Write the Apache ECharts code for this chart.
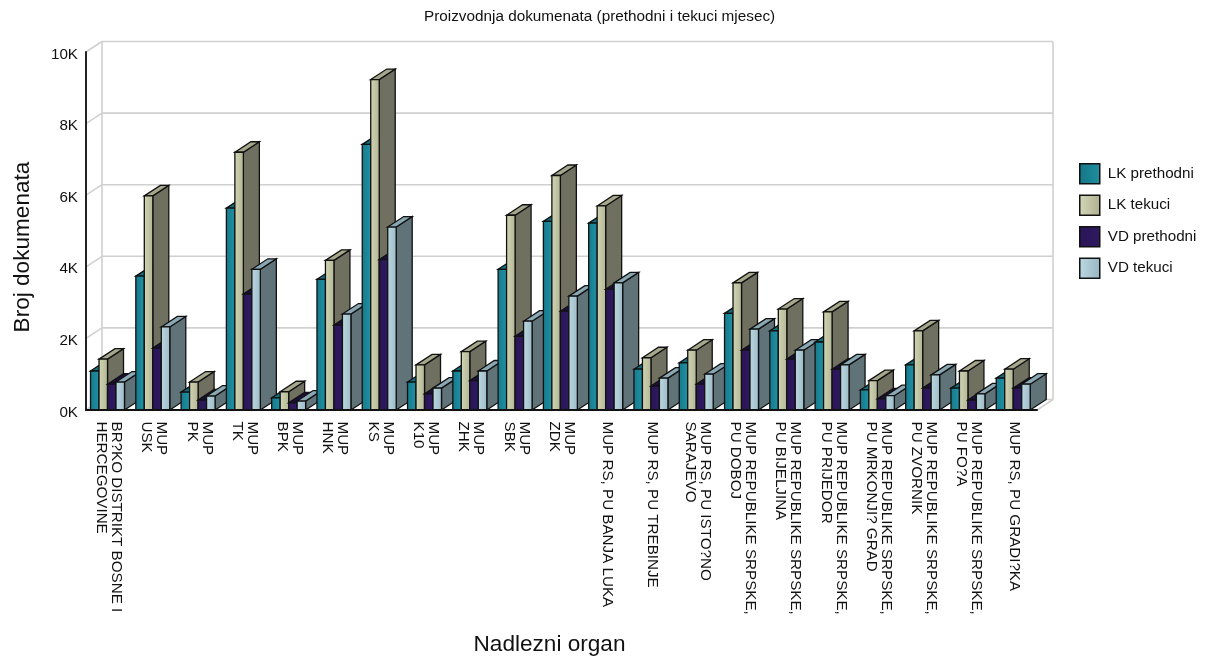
<!DOCTYPE html>
<html><head><meta charset="utf-8">
<style>html,body{margin:0;padding:0;background:#fff}#c{width:1208px;height:661px}</style>
<script src="https://cdn.jsdelivr.net/npm/echarts@6/dist/echarts.min.js"></script>
</head><body><div id="c"></div>
<script>
const categories = [
 "BR?KO DISTRIKT BOSNE I\nHERCEGOVINE","MUP\nUSK","MUP\nPK","MUP\nTK","MUP\nBPK","MUP\nHNK","MUP\nKS","MUP\nK10","MUP\nZHK","MUP\nSBK","MUP\nZDK",
 "MUP RS, PU BANJA LUKA","MUP RS, PU TREBINJE","MUP RS, PU ISTO?NO\nSARAJEVO","MUP REPUBLIKE SRPSKE,\nPU DOBOJ","MUP REPUBLIKE SRPSKE,\nPU BIJELJINA",
 "MUP REPUBLIKE SRPSKE,\nPU PRIJEDOR","MUP REPUBLIKE SRPSKE,\nPU MRKONJI? GRAD","MUP REPUBLIKE SRPSKE,\nPU ZVORNIK","MUP REPUBLIKE SRPSKE,\nPU FO?A","MUP RS, PU GRADI?KA"];
const lkPrethodni = [1090,3740,500,5640,340,3650,7420,780,1090,3930,5270,5220,1140,1320,2700,2210,1900,560,1260,610,890];
const lkTekuci    = [1420,5980,780,7200,510,4180,9230,1260,1630,5440,6550,5700,1460,1670,3550,2820,2740,820,2210,1090,1140];
const vdPrethodni = [720,1730,280,3240,200,2370,4200,450,820,2060,2760,3370,670,720,1670,1420,1140,310,610,280,610];
const vdTekuci    = [780,2320,390,3930,250,2680,5110,610,1090,2480,3180,3550,890,1000,2260,1670,1260,400,980,450,720];
const yTicks = [0,2000,4000,6000,8000,10000];

const DX = 16, DY = 10.5, GRIDL = 86, GRIDR = 1037, GRIDT = 52, GRIDB = 410.5;
const FONT = '"Liberation Sans", Arial, sans-serif';
const grad = (a,b)=>({type:'linear',x:0,y:0,x2:1,y2:0,colorStops:[{offset:0,color:a},{offset:1,color:b}]});
const styles = [
 {name:'LK prethodni',front:grad('#17788a','#1f93a6'),side:'#10606f',top:'#136f80',legend:grad('#157686','#1f8fa0'),values:lkPrethodni},
 {name:'LK tekuci',front:grad('#d2d6b4','#b2b594'),side:'#6f7060',top:'#a6a78b',legend:grad('#d5d8b8','#aeb090'),values:lkTekuci},
 {name:'VD prethodni',front:grad('#2a1557','#2f1a62'),side:'#1d0e40',top:'#1d0e40',legend:grad('#2a1557','#2f1a62'),values:vdPrethodni},
 {name:'VD tekuci',front:grad('#bcd9e2','#9cbac6'),side:'#5f7378',top:'#8aa7b4',legend:grad('#bcd9e2','#98b6c2'),values:vdTekuci}
];

function barRender(si){
  return function(params, api){
    const i = api.value(0), v = api.value(1);
    const p0 = api.coord([i,0]), p1 = api.coord([i,v]);
    const band = api.size([1,0])[0];
    const left = p0[0] - band/2 + band*0.10;
    const w = band*0.75/4;
    const x = left + si*w, xr = x + w, yb = p0[1], yt = p1[1];
    const z = (i*4 + si)*3;
    const ln = {stroke:'#111',lineWidth:1.3,lineJoin:'miter'};
    const s = styles[si];
    return {type:'group',children:[
      {type:'polygon',z2:z,shape:{points:[[xr,yb],[xr+DX,yb-DY],[xr+DX,yt-DY],[xr,yt]]},style:Object.assign({fill:s.side},ln)},
      {type:'polygon',z2:z+1,shape:{points:[[x,yt],[x+DX,yt-DY],[xr+DX,yt-DY],[xr,yt]]},style:Object.assign({fill:s.top},ln)},
      {type:'rect',z2:z+2,shape:{x:x,y:yt,width:w,height:yb-yt},style:Object.assign({fill:s.front},ln)}
    ]};
  };
}
function wallRender(params, api){
  const v = api.value(0);
  const p = api.coord([0,v]);
  const xl = GRIDL, y = p[1];
  const st = {stroke:'#d0d0d0',lineWidth:1.6,fill:null};
  const ch = [
    {type:'line',shape:{x1:xl,y1:y,x2:xl+DX,y2:y-DY},style:st},
    {type:'line',shape:{x1:xl+DX,y1:y-DY,x2:GRIDR+DX,y2:y-DY},style:st}
  ];
  if(v===0){
    ch.push({type:'line',shape:{x1:GRIDR,y1:y,x2:GRIDR+DX,y2:y-DY},style:st});
    ch.push({type:'line',shape:{x1:xl+DX,y1:y-DY,x2:xl+DX,y2:GRIDT-DY},style:st});
    ch.push({type:'line',shape:{x1:GRIDR+DX,y1:y-DY,x2:GRIDR+DX,y2:GRIDT-DY},style:st});
  }
  return {type:'group',children:ch};
}

const chart = echarts.init(document.getElementById('c'),null,{renderer:'canvas'});
chart.setOption({
  animation:false,
  backgroundColor:'#fff',
  textStyle:{fontFamily:FONT},
  title:{text:'Proizvodnja dokumenata (prethodni i tekuci mjesec)',left:419,top:4,
    textStyle:{fontFamily:FONT,fontSize:15.3,fontWeight:'normal',color:'#111'}},
  legend:{orient:'vertical',left:1074,top:158,itemWidth:20,itemHeight:20,itemGap:10,icon:'rect',selectedMode:false,
    textStyle:{fontFamily:FONT,fontSize:15.2,color:'#111',padding:[0,0,0,3]},
    data:styles.map(s=>({name:s.name,itemStyle:{color:s.legend,borderColor:'#111',borderWidth:1.5}}))},
  grid:{left:GRIDL,right:1208-GRIDR,top:GRIDT,height:GRIDB-GRIDT},
  xAxis:{type:'category',data:categories,z:5,
    name:'Nadlezni organ',nameLocation:'middle',nameGap:223,
    nameTextStyle:{fontFamily:FONT,fontSize:22.6,color:'#111',padding:[0,24,0,0]},
    axisLine:{show:true,lineStyle:{color:'#111',width:2}},axisTick:{show:false},
    axisLabel:{interval:0,rotate:-90,margin:11.5,fontFamily:FONT,fontSize:15.2,lineHeight:15,color:'#111',padding:[5,0,0,0]},
    splitLine:{show:false}},
  yAxis:{type:'value',min:0,max:10000,interval:2000,z:5,
    name:'Broj dokumenata',nameLocation:'middle',nameGap:52,
    nameTextStyle:{fontFamily:FONT,fontSize:22.6,color:'#111',padding:[0,32,0,0]},
    axisLine:{show:true,lineStyle:{color:'#222',width:2}},axisTick:{show:false},
    axisLabel:{margin:8,fontFamily:FONT,fontSize:15.2,color:'#111',verticalAlign:'top',lineHeight:5,formatter:v=>(v/1000)+'K'},
    splitLine:{show:false}},
  series:[
    {type:'custom',name:'wall',z:1,silent:true,clip:false,renderItem:wallRender,encode:{y:0},data:yTicks.map(v=>[v])}
  ].concat(styles.map((s,si)=>({
    type:'custom',name:s.name,z:2,clip:false,renderItem:barRender(si),encode:{x:0,y:1},
    itemStyle:{color:'#888'},
    data:s.values.map((v,i)=>[i,v])
  })))
});
</script></body></html>
